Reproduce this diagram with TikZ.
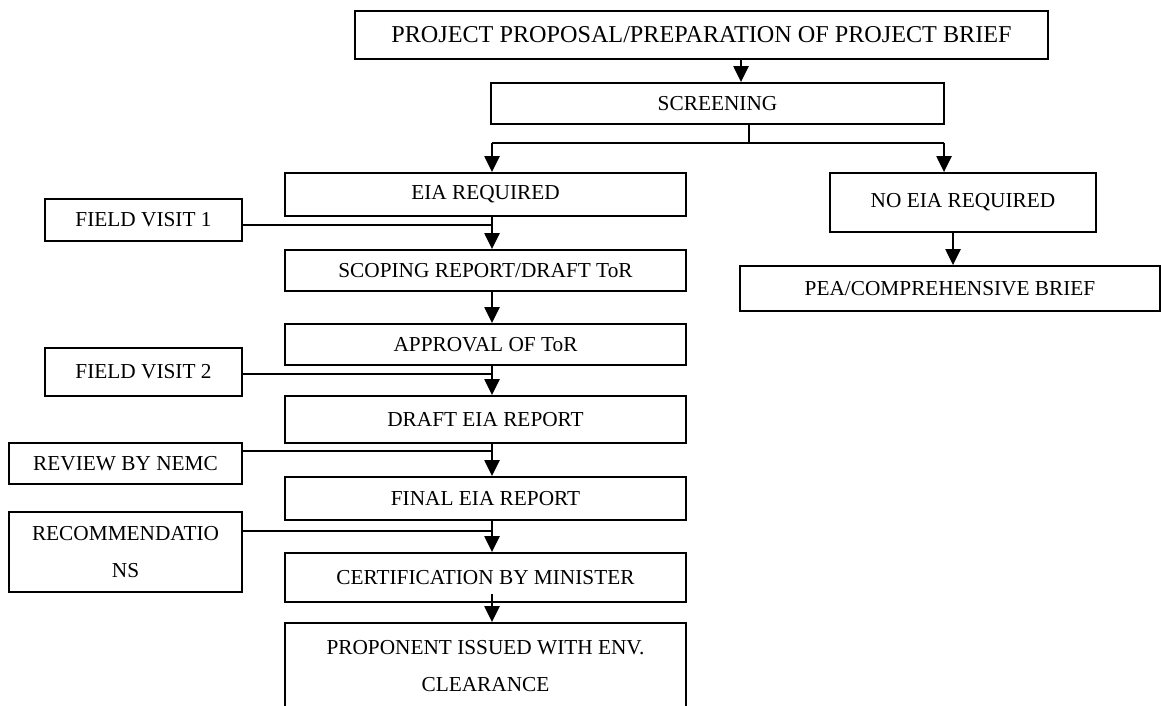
\documentclass[tikz,border=0pt]{standalone}
\usepackage{fontspec}
\setmainfont{Liberation Serif}
\usetikzlibrary{arrows.meta}
\tikzset{
  box/.style={draw, line width=1.8pt, inner sep=0pt, align=center,
    font=\fontsize{21.3}{37}\selectfont},
  arr/.style={line width=2.3pt, -{Triangle[width=15pt,length=16pt]}},
  ln/.style={line width=1.7pt},
  fline/.style={line width=1.7pt}
}
\begin{document}
\begin{tikzpicture}[x=1pt,y=-1pt]
\useasboundingbox (0,0) rectangle (1161,706);
\clip (0,0) rectangle (1161,706);
% main nodes
\node[box, minimum width=693pt, minimum height=48pt, font=\fontsize{24.2}{30}\selectfont] (top) at (701.5,35) {PROJECT PROPOSAL/PREPARATION OF PROJECT BRIEF};
\node[box, minimum width=453pt, minimum height=41pt] (scr) at (717.5,103.5) {SCREENING};
\node[box, minimum width=401pt, minimum height=43pt] (eia) at (485.5,194.5) {EIA REQUIRED};
\node[box, minimum width=266pt, minimum height=59pt] (noeia) at (963,202.5) {NO EIA REQUIRED};
\node[box, minimum width=420pt, minimum height=45pt] (pea) at (950,288.5) {PEA/COMPREHENSIVE BRIEF};
\node[box, minimum width=401pt, minimum height=41pt] (scop) at (485.5,270.5) {SCOPING REPORT/DRAFT ToR};
\node[box, minimum width=401pt, minimum height=41pt] (appr) at (485.5,344.5) {APPROVAL OF ToR};
\node[box, minimum width=401pt, minimum height=47pt] (draft) at (485.5,419.5) {DRAFT EIA REPORT};
\node[box, minimum width=401pt, minimum height=43pt] (final) at (485.5,498.5) {FINAL EIA REPORT};
\node[box, minimum width=401pt, minimum height=49pt] (cert) at (485.5,577.5) {CERTIFICATION BY MINISTER};
\node[box, minimum width=401pt, minimum height=86pt] (prop) at (485.5,666) {PROPONENT ISSUED WITH ENV.\\CLEARANCE};
% side nodes
\node[box, minimum width=197pt, minimum height=42pt] (fv1) at (143.5,220) {FIELD VISIT 1};
\node[box, minimum width=197pt, minimum height=48pt] (fv2) at (143.5,372) {FIELD VISIT 2};
\node[box, minimum width=233pt, minimum height=41pt] (nemc) at (125.5,463.5) {REVIEW BY NEMC};
\node[box, minimum width=233pt, minimum height=80pt] (rec) at (125.5,552) {RECOMMENDATIO\\NS};
% helper coordinates
\coordinate (ta) at (741,0);
\coordinate (sj) at (749,143);
\coordinate (lj) at (492,143);
\coordinate (rj) at (944,143);
\coordinate (cx) at (492,0);
\coordinate (nx) at (953,0);
\coordinate (j1) at (492,225);
\coordinate (j2) at (492,374);
\coordinate (j3) at (492,451);
\coordinate (j4) at (492,531);
% connectors
\draw[arr] (top.south -| ta) -- (scr.north -| ta);
\draw[ln] (scr.south -| sj) -- (sj);
\draw[ln] (lj) -- (rj);
\draw[arr] (lj) -- (eia.north -| lj);
\draw[arr] (rj) -- (noeia.north -| rj);
\draw[arr] (noeia.south -| nx) -- (pea.north -| nx);
\draw[arr] (eia.south -| cx) -- (scop.north -| cx);
\draw[arr] (scop.south -| cx) -- (appr.north -| cx);
\draw[arr] (appr.south -| cx) -- (draft.north -| cx);
\draw[arr] (draft.south -| cx) -- (final.north -| cx);
\draw[arr] (final.south -| cx) -- (cert.north -| cx);
\draw[arr] ([yshift=9pt]cert.south -| cx) -- (prop.north -| cx);
\draw[fline] (j1 -| fv1.east) -- (j1);
\draw[fline] (j2 -| fv2.east) -- (j2);
\draw[fline] (j3 -| nemc.east) -- (j3);
\draw[fline] (j4 -| rec.east) -- (j4);
\end{tikzpicture}
\end{document}
